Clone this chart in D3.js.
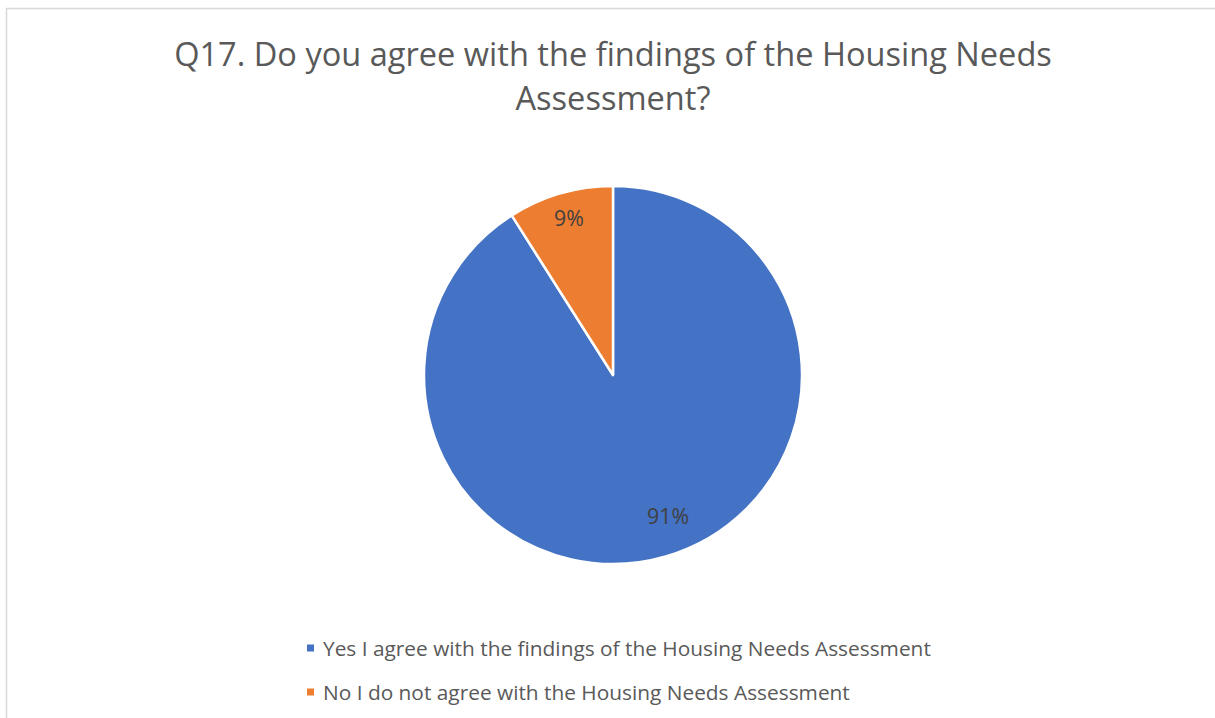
<!DOCTYPE html>
<html><head><meta charset="utf-8">
<script src="https://cdn.jsdelivr.net/npm/d3@7"></script>
<style>html,body{margin:0;padding:0;background:#fff;overflow:hidden}</style>
</head><body>
<svg id="c" width="1215" height="718"></svg>
<script>
const titleLines = ["Q17. Do you agree with the findings of the Housing Needs", "Assessment?"];
const categories = ["Yes I agree with the findings of the Housing Needs Assessment", "No I do not agree with the Housing Needs Assessment"];
const values = [91, 9];
const labels = ["91%", "9%"];
const colors = ["#4472C4", "#ED7D31"];

const svg = d3.select("#c");
const font = "'Open Sans', 'Liberation Sans', sans-serif";

svg.append("rect").attr("x", 6.5).attr("y", 8.5).attr("width", 1240).attr("height", 740)
  .attr("fill", "#fff").attr("stroke", "#d9d9d9").attr("stroke-width", 1.5);

function fitSize(text, target) {
  const t = svg.append("text").attr("font-family", font).attr("font-size", 100).text(text);
  const w = t.node().getComputedTextLength();
  t.remove();
  return 100 * target / w;
}

const tSize = fitSize(titleLines[0], 878);
const titleY = [66, 110];
titleLines.forEach((l, i) => {
  svg.append("text").attr("x", 613).attr("y", titleY[i]).attr("text-anchor", "middle")
    .attr("font-family", font).attr("font-size", tSize).attr("fill", "#595959").text(l);
});

const cx = 613, cy = 375, R = 189;
const pie = d3.pie().sort(null).value(d => d).startAngle(0).endAngle(2 * Math.PI);
const arcs = pie(values);
const arc = d3.arc().innerRadius(0).outerRadius(R);
const g = svg.append("g").attr("transform", `translate(${cx},${cy})`);
g.selectAll("path").data(arcs).join("path")
  .attr("d", arc).attr("fill", (d, i) => colors[i])
  .attr("stroke", "#fff").attr("stroke-width", 2.5).attr("stroke-linejoin", "round");

const lSize = fitSize(labels[0], 42);
g.selectAll("text.lbl").data(arcs).join("text").attr("class", "lbl")
  .attr("transform", (d, i) => {
    const r = R * (i === 0 ? 0.80 : 0.865);
    const a = (d.startAngle + d.endAngle) / 2 + (i === 0 ? -0.09 : 0.01);
    return `translate(${r * Math.sin(a)},${-r * Math.cos(a)})`;
  })
  .attr("text-anchor", "middle").attr("dominant-baseline", "central")
  .attr("font-family", font).attr("font-size", lSize).attr("fill", "#404040")
  .text((d, i) => labels[i]);

const legSize = fitSize(categories[0], 608);
const legY = [648, 692];
categories.forEach((c, i) => {
  svg.append("rect").attr("x", 307).attr("y", legY[i] - 3.5).attr("width", 7).attr("height", 7).attr("fill", colors[i]);
  svg.append("text").attr("x", 323).attr("y", legY[i]).attr("dominant-baseline", "central")
    .attr("font-family", font).attr("font-size", legSize).attr("fill", "#595959").text(c);
});
</script>
</body></html>
